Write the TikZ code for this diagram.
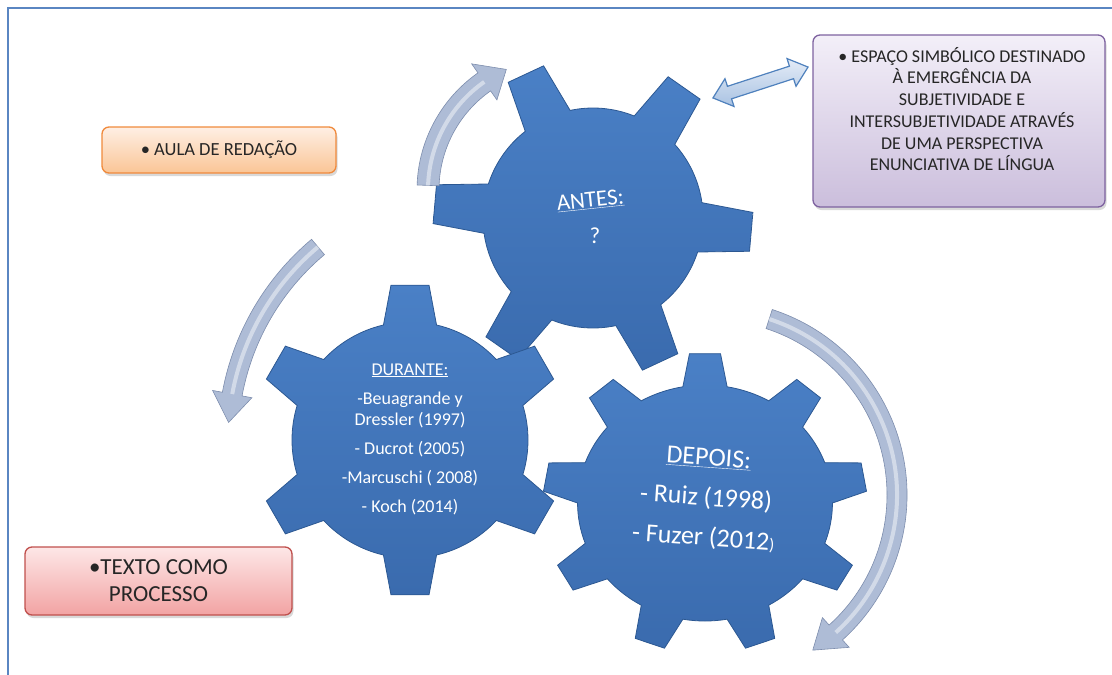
\documentclass[tikz,border=0pt]{standalone}
\usepackage{fontspec}
\setmainfont{Carlito}
\usetikzlibrary{shapes.arrows,shadows}

\definecolor{gearlight}{HTML}{4A80C6}
\definecolor{geardark}{HTML}{3A6BAE}
\definecolor{gearedge}{HTML}{2C5892}
\definecolor{framecol}{HTML}{5A86C2}
\definecolor{curlfill}{HTML}{AEBCD6}
\definecolor{curledge}{HTML}{7D8DAD}
\definecolor{linktop}{HTML}{E4ECF7}
\definecolor{linkbot}{HTML}{A9C2E2}
\definecolor{linkedge}{HTML}{4F81BD}
\definecolor{orangetop}{HTML}{FEEFE4}
\definecolor{orangebot}{HTML}{FAC596}
\definecolor{orangeedge}{HTML}{F08A3C}
\definecolor{purpletop}{HTML}{F3EFF8}
\definecolor{purplebot}{HTML}{CBBEDC}
\definecolor{purpleedge}{HTML}{7E62A0}
\definecolor{redtop}{HTML}{FDE7E7}
\definecolor{redbot}{HTML}{F2A3A3}
\definecolor{rededge}{HTML}{C0504D}
\definecolor{textdark}{HTML}{262626}

\tikzset{
  gearbody/.style={top color=gearlight, bottom color=geardark, draw=gearedge, line width=0.8pt},
  curlarrow/.style={fill=curlfill, draw=curledge, line width=0.6pt},
  box/.style={rounded corners=7pt, line width=1.3pt, align=center, text=textdark, inner sep=2pt,
    drop shadow={opacity=0.3, shadow xshift=1.5pt, shadow yshift=-3pt}},
  geartext/.style={text=white, align=center, inner sep=0pt},
  linkarrow/.style={double arrow, draw=linkedge, line width=1.2pt, top color=linktop, bottom color=linkbot,
    minimum height=100pt, inner sep=6pt, double arrow head extend=8pt, double arrow tip angle=80}
}

% gear: options, teeth, body radius, tip radius, first tooth, half base angle, half tip angle
\newcommand{\gear}[7]{%
  \shade[gearbody,#1] ({#5-#6}:#3)
    \foreach \k in {1,...,#2}{
      -- ({#5+(\k-1)*360/#2-#7}:#4) -- ({#5+(\k-1)*360/#2+#7}:#4)
      -- ({#5+(\k-1)*360/#2+#6}:#3)
      arc[start angle={#5+(\k-1)*360/#2+#6}, end angle={#5+\k*360/#2-#6}, radius=#3]
    } -- cycle;}

% curved arrow: centre, radius, from, to, half width, half head width, head angle
\newcommand{\curl}[7]{%
  \filldraw[curlarrow,shift={#1}] ({#3}:{#2+#5})
    arc[start angle=#3, end angle={#4-#7}, radius={#2+#5}]
    -- ({#4-#7}:{#2+#6}) -- (#4:#2) -- ({#4-#7}:{#2-#6}) -- ({#4-#7}:{#2-#5})
    arc[start angle={#4-#7}, end angle=#3, radius={#2-#5}] -- cycle;
  \draw[white, opacity=0.45, line width=4pt, shift={#1}] ({#3}:#2)
    arc[start angle=#3, end angle={#4-#7}, radius=#2];}

\begin{document}
\begin{tikzpicture}[x=1pt,y=-1pt]

    \useasboundingbox (0,0) rectangle (1112,675);

    % Frame
    \draw[framecol, line width=1.6pt] (8,675) -- (8,8) -- (1112,8);

    % Gears
    \gear{shift={(593,218)}}{6}{110}{160}{5}{13}{7}
    \gear{shift={(410,440)}}{6}{118}{156}{30}{13}{7}
    \gear{shift={(705,503)},xscale=1.08}{9}{118}{150}{-10}{10}{5.5}

    % Turning arrows
    \curl{(560,190)}{132}{182}{246}{11}{22}{11}
    \curl{(480,440)}{252}{230}{184}{10}{20}{-6.5}
    \curl{(712,495)}{185}{-72}{57}{10}{20}{9}

    % Double arrow to the purple box
    \node[linkarrow, rotate=18] (link) at (760.5,82.5) {};

    % Boxes
    \node[box, draw=orangeedge, top color=orangetop, bottom color=orangebot,
      minimum width=234pt, minimum height=46pt, font=\fontsize{18.5}{22}\selectfont]
      (aula) at (219,150) {\textbullet\ AULA DE REDAÇÃO};
    \node[box, draw=purpleedge, top color=purpletop, bottom color=purplebot,
      minimum width=292pt, minimum height=172pt] (espaco) at (959,121) {};
    \node[geartext, text=textdark, font=\fontsize{18}{21.7}\selectfont] (espacotext) at (962,109)
      {\textbullet\ ESPAÇO SIMBÓLICO DESTINADO\\ À EMERGÊNCIA DA\\ SUBJETIVIDADE E\\
       INTERSUBJETIVIDADE ATRAVÉS\\ DE UMA PERSPECTIVA\\ ENUNCIATIVA DE LÍNGUA};
    \node[box, draw=rededge, top color=redtop, bottom color=redbot,
      minimum width=267pt, minimum height=68pt, font=\fontsize{23}{27}\selectfont]
      (texto) at (158.5,581) {\textbullet TEXTO COMO\\ PROCESSO};

    % Gear labels
    \node[geartext, anchor=base, rotate=6, font=\fontsize{23}{27}\selectfont] (antes) at (591,207) {\underline{ANTES:}};
    \node[geartext, anchor=base, font=\fontsize{23}{27}\selectfont] (antesq) at (595,243) {?};
    \node[geartext, font=\fontsize{18}{21}\selectfont] (durante) at (410,439)
      {\underline{DURANTE:}\\[8pt] -Beuagrande y\\ Dressler (1997)\\[8pt] - Ducrot (2005)\\[8pt]
       -Marcuschi ( 2008)\\[8pt] - Koch (2014)};
    \node[geartext, rotate=-4, font=\fontsize{26}{40}\selectfont] (depois) at (706,499)
      {\underline{DEPOIS:}\\ - Ruiz (1998)\\ - Fuzer (2012{\fontsize{17}{17}\selectfont)}};

\end{tikzpicture}
\end{document}
